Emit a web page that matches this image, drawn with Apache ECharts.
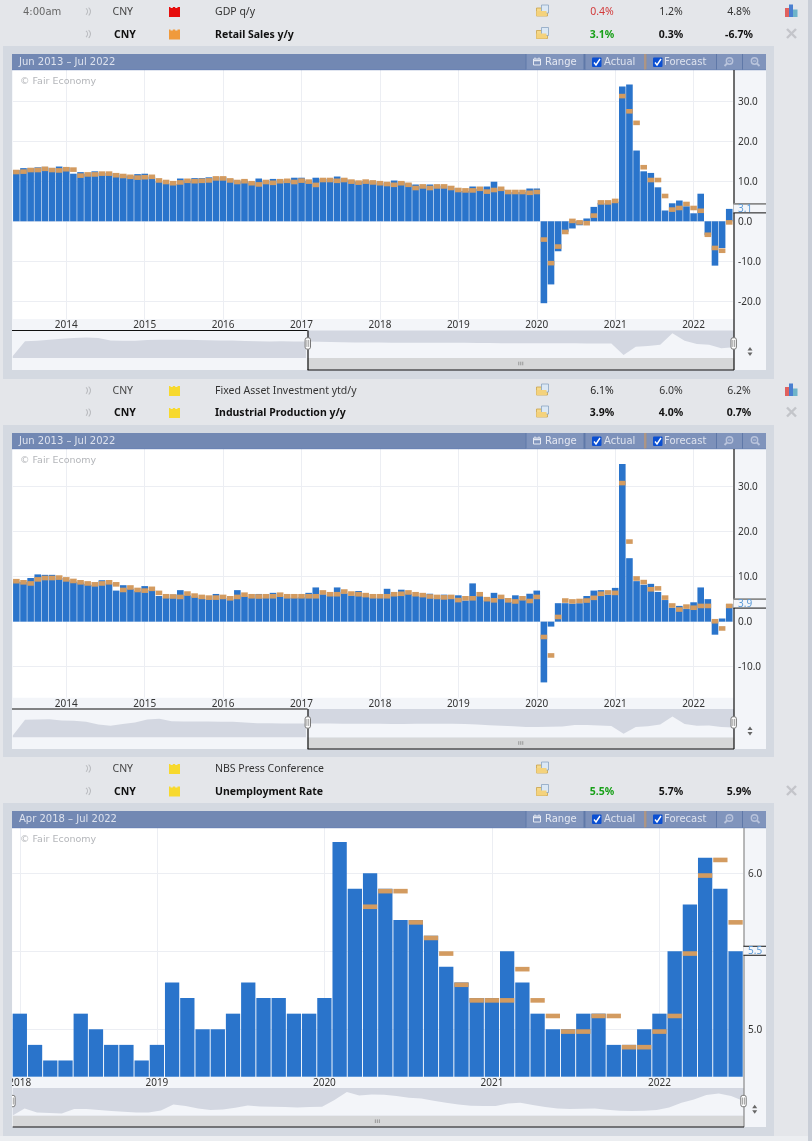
<!DOCTYPE html>
<html><head><meta charset="utf-8">
<style>html,body{margin:0;padding:0;background:#e4e6ea}#c{width:812px;height:1141px}</style>
<script src="https://cdn.jsdelivr.net/npm/echarts@6/dist/echarts.min.js"></script>
</head><body><div id="c"></div>
<script>
const MONTHS=['Jan','Feb','Mar','Apr','May','Jun','Jul','Aug','Sep','Oct','Nov','Dec'];
function releaseMonths(y,m,n){const o=[];while(o.length<n){if(m!==2)o.push(MONTHS[m-1]+' '+y);m++;if(m>12){m=1;y++;}}return o;}

const longCategories=releaseMonths(2013,6,101);
const shortCategories=releaseMonths(2018,4,48);
const longYearTicks=['Jan 2014','Jan 2015','Jan 2016','Jan 2017','Jan 2018','Jan 2019','Jan 2020','Jan 2021','Jan 2022'];
const shortYearTicks=['Apr 2018','Jan 2019','Jan 2020','Jan 2021','Jan 2022'];

const retailActual=[12.8,13.3,13.3,13.5,13.6,13.3,13.7,13.5,11.9,12.3,11.9,12.5,12.1,12.1,11.7,11.5,11.3,11.8,11.9,11.2,10.0,9.5,9.3,10.7,10.2,10.8,10.8,11.0,11.0,11.0,10.5,10.0,10.2,9.7,10.7,10.0,10.6,10.2,10.3,10.9,10.9,10.1,10.9,10.6,10.6,11.2,10.5,10.2,9.9,10.1,10.0,9.7,9.5,10.2,9.8,9.4,9.2,8.8,9.2,8.9,8.9,8.3,7.6,7.6,8.7,8.1,8.7,9.9,8.0,7.3,7.3,7.3,8.2,8.2,-20.5,-15.8,-7.5,-2.6,-1.8,-1.0,0.7,3.6,4.6,4.5,4.9,33.75,34.2,17.7,12.5,12.1,8.5,2.7,4.5,5.2,3.75,2.0,6.9,-3.5,-11.1,-6.7,3.1];
const retailForecast=[12.9,13.0,13.4,13.4,13.7,13.4,13.3,13.6,13.5,12.0,12.3,12.3,12.5,12.5,12.1,11.9,11.7,11.5,11.6,11.7,10.8,10.4,10.1,10.3,10.7,10.6,10.7,10.8,11.3,11.3,10.8,10.4,10.6,10.1,9.8,10.4,10.2,10.6,10.7,10.4,10.75,10.5,9.67,10.9,10.9,10.7,10.9,10.5,10.25,10.5,10.3,10.1,9.9,9.7,10.1,9.7,8.9,9.3,8.9,9.3,9.3,8.9,8.4,8.3,8.3,8.7,8.0,8.4,8.7,7.9,7.9,7.9,7.7,7.9,-4.0,-9.9,-5.75,-2.1,0.67,0.3,0.1,2.0,5.3,5.3,5.67,31.9,28.1,25.2,14.1,10.9,10.9,6.9,3.5,3.9,4.9,3.9,3.2,-2.8,-6.1,-6.8,0.3];
const productionActual=[8.9,8.8,9.7,10.5,10.4,10.4,9.7,9.3,8.9,8.7,8.4,8.2,9.2,8.5,6.9,8.1,7.3,6.8,7.9,7.0,5.7,5.3,6.0,7.0,5.9,5.6,5.2,5.0,6.15,5.2,4.9,7.0,5.6,5.3,6.15,5.3,6.4,5.6,5.3,5.3,5.4,6.4,7.6,6.1,5.7,7.6,6.3,5.8,6.8,5.5,5.3,5.3,7.3,5.7,7.1,6.2,5.7,5.5,6.2,5.2,6.0,5.1,5.85,4.7,8.5,5.7,4.7,6.4,5.2,4.4,5.85,4.8,6.2,6.9,-13.5,-1.1,4.1,4.1,4.0,4.1,5.7,6.9,7.0,6.0,7.5,35.0,14.1,9.0,8.2,8.4,6.6,4.8,3.1,3.5,2.8,4.3,7.6,5.0,-2.9,0.7,3.9];
const productionForecast=[9.5,9.25,9.0,9.9,10.2,10.2,10.3,9.9,9.55,9.25,9.0,8.8,9.0,9.25,8.8,7.55,8.1,7.55,7.4,7.8,6.9,6.15,6.1,6.0,6.75,6.3,6.0,5.85,5.85,6.0,5.7,6.0,6.5,6.15,6.1,6.15,6.15,6.5,6.15,6.15,6.15,6.15,6.15,7.0,6.6,6.6,7.2,6.75,6.6,6.4,6.15,6.15,6.15,6.6,6.7,7.0,6.6,6.4,6.1,6.0,5.9,6.0,5.3,5.7,5.7,6.6,5.5,5.25,6.0,5.25,5.0,5.7,5.1,6.0,-2.9,-7.0,1.55,5.2,5.0,5.1,5.2,5.8,6.7,7.0,6.9,31.3,18.3,10.1,9.3,7.7,7.9,5.85,4.1,3.2,3.85,3.6,4.0,4.0,0.6,-1.0,4.0];
const unemploymentActual=[5.1,4.9,4.8,4.8,5.1,5.0,4.9,4.9,4.8,4.9,5.3,5.2,5.0,5.0,5.1,5.3,5.2,5.2,5.1,5.1,5.2,6.2,5.9,6.0,5.9,5.7,5.7,5.6,5.4,5.3,5.2,5.2,5.5,5.3,5.1,5.0,5.0,5.1,5.1,4.9,4.9,5.0,5.1,5.5,5.8,6.1,5.9,5.5];
const unemploymentForecast=[null,null,null,null,null,null,null,null,null,null,null,null,null,null,null,null,null,null,null,null,null,null,null,5.8,5.9,5.9,5.7,5.6,5.5,5.3,5.2,5.2,5.2,5.4,5.2,5.1,5.0,5.0,5.1,5.1,4.9,4.9,5.0,5.1,5.5,6.0,6.1,5.7];

const retailOverview=[2,16.8,17.2,18.2,19.3,19.9,20.6,20,17.5,17.3,17.3,18,18.3,18.3,18.2,18.1,17.8,17.6,17.4,17,16.7,16.6,16.8,16.6,16.4,16.3,16,15.8,15.6,15.5,15.4,15.3,15.3,15.3,15.2,15.2,15.2,15.2,15,15,14.7,14.7,14.7,14.7,14.7,14.8,14.7,14.4,14.4,14.6,3,11.3,12,13.3,24.7,17.3,14,13.3,9.7,10.7];
const productionOverview=[2,17.8,18,18.2,17,16.7,15.8,13,11.8,13.5,15,18,18.7,16.2,16,16,15.9,15.8,15.7,15,14.3,14.2,14.1,14,14,14,13.9,13.8,13.7,13.7,13.7,13.6,13.6,13.7,13.8,13.7,13.7,13.4,13,12.3,11.7,11.2,10.5,10.5,10.8,11,12.5,12.6,12,11.5,3.7,10.5,11.3,13,21,13.5,11.8,12,10.5,10];
const unemploymentOverview=[0,7.3,3.3,2.7,2.3,6.7,6.7,5.7,4.7,4,3.3,3.3,5.3,11.3,9.7,7.3,5.7,6.3,8,10.3,9.3,9,8.7,8.3,8.7,9,15.7,23.7,20.3,21.3,21,19.7,18,17.3,15,13,11.3,10,9.7,9.7,12.3,13,10.7,8.7,7.3,6.7,7,7.3,6,5,4.7,5,5.7,8.3,13,16.3,20.7,22.3,19.7,14.7];
const overviewSteps=retailOverview.map((_,i)=>String(i));

const longValueTicks=[-20,-10,0,10,20,30];
const productionValueTicks=[-10,0,10,20,30];
const unemploymentGridTicks=[5,5.5,6];
const unemploymentLabelTicks=[5,6];

const BLUE='#2a74cb',TAN='#d39b60',LIGHT='#f3f5f9',DARK='#d3d7e1',OUTER='#d4d9e1',ROW='#e4e6ea';
const SANS='"Noto Sans"',WIDE='"DejaVu Sans"';

const panels=[
 {title:'Jun 2013 – Jul 2022',cats:longCategories,ticks:longYearTicks,actual:retailActual,forecast:retailForecast,overview:retailOverview,
  outerTop:46,outerBottom:379,top:54,plotTop:70,plotBottom:319,stripBottom:330.5,ovBottom:358,bottom:370,plotRight:732.8,right:734,left:12.8,handleX:307.5,splitAt:24,
  min:-24.45,max:37.85,gridTicks:longValueTicks,labelTicks:longValueTicks,current:3.1,barW:6.6,bandH:4.6,axisColor:'#111',arrowX:750},
 {title:'Jun 2013 – Jul 2022',cats:longCategories,ticks:longYearTicks,actual:productionActual,forecast:productionForecast,overview:productionOverview,
  outerTop:425,outerBottom:757,top:433,plotTop:449,plotBottom:697.7,stripBottom:709,ovBottom:737.5,bottom:749,plotRight:732.8,right:734,left:12.8,handleX:307.5,splitAt:24,
  min:-16.9,max:38.36,gridTicks:productionValueTicks,labelTicks:productionValueTicks,current:3.9,barW:6.6,bandH:4.6,axisColor:'#111',arrowX:750},
 {title:'Apr 2018 – Jul 2022',cats:shortCategories,ticks:shortYearTicks,actual:unemploymentActual,forecast:unemploymentForecast,overview:unemploymentOverview,
  outerTop:803,outerBottom:1136,top:811,plotTop:828,plotBottom:1076.7,stripBottom:1088,ovBottom:1115.7,bottom:1127,plotRight:743.2,right:744,left:12.2,handleX:12.7,splitAt:0,
  min:4.696,max:6.29,gridTicks:unemploymentGridTicks,labelTicks:unemploymentLabelTicks,current:5.5,barW:14.3,bandH:4.6,axisColor:'#8a8a8a',arrowX:754.7}
];
const rows=[
 {y:11.5,time:'4:00am',cur:'CNY',impact:'#e60d0d',name:'GDP q/y',bold:false,a:'0.4%',aColor:'#d23a3a',f:'1.2%',p:'4.8%',chart:true},
 {y:34,cur:'CNY',impact:'#f09a3c',name:'Retail Sales y/y',bold:true,a:'3.1%',aColor:'#18a018',f:'0.3%',p:'-6.7%',close:true},
 {y:390.5,cur:'CNY',impact:'#f7d92e',name:'Fixed Asset Investment ytd/y',bold:false,a:'6.1%',aColor:'#222',f:'6.0%',p:'6.2%',chart:true},
 {y:412.5,cur:'CNY',impact:'#f7d92e',name:'Industrial Production y/y',bold:true,a:'3.9%',aColor:'#111',f:'4.0%',p:'0.7%',close:true},
 {y:768.5,cur:'CNY',impact:'#f7d92e',name:'NBS Press Conference',bold:false},
 {y:791,cur:'CNY',impact:'#f7d92e',name:'Unemployment Rate',bold:true,a:'5.5%',aColor:'#18a018',f:'5.7%',p:'5.9%',close:true}
];

const grids=[],xAxes=[],yAxes=[],series=[];
panels.forEach((p,n)=>{
  const m=n*2,o=m+1,W=p.plotRight-p.left;
  grids.push({left:p.left,top:p.plotTop,width:W,height:p.plotBottom-p.plotTop,containLabel:false});
  grids.push({left:p.left,top:p.stripBottom,width:p.right-p.left-0.5,height:p.ovBottom-p.stripBottom,containLabel:false});
  const isTick=(i,v)=>p.ticks.indexOf(p.cats[i])>=0;
  xAxes.push({gridIndex:m,type:'category',data:p.cats,boundaryGap:true,position:'bottom',
    axisLine:{show:false,onZero:false},axisTick:{show:false},
    axisLabel:{interval:isTick,formatter:v=>v.slice(-4),margin:1,fontFamily:SANS,fontSize:10,color:'#333',hideOverlap:false,showMinLabel:true,verticalAlign:'top',lineHeight:10},
    splitLine:{show:true,interval:isTick,alignWithLabel:true,lineStyle:{color:'#eceef3',width:1}}});
  yAxes.push({gridIndex:m,type:'value',position:'right',min:p.min,max:p.max,
    axisLine:{show:false,onZero:false},
    axisTick:{show:false,customValues:p.gridTicks},
    axisLabel:{customValues:p.labelTicks,formatter:v=>'{v|'+v.toFixed(1)+'}',margin:p.right-p.plotRight+4,rich:{v:{padding:[2,0,0,0],fontFamily:SANS,fontSize:10,color:'#333'}},fontFamily:SANS,fontSize:10,color:'#333',align:'left'},
    splitLine:{show:true,lineStyle:{color:'#eceef3',width:1}}});
  xAxes.push({gridIndex:o,type:'category',data:overviewSteps,boundaryGap:false,show:false});
  yAxes.push({gridIndex:o,type:'value',min:0,max:p.ovBottom-p.stripBottom,show:false});
  series.push({type:'bar',name:'Actual',xAxisIndex:m,yAxisIndex:m,data:p.actual,barWidth:p.barW,itemStyle:{color:BLUE},z:3,silent:true});
  series.push({type:'scatter',name:'Forecast',xAxisIndex:m,yAxisIndex:m,data:p.forecast,symbol:'rect',symbolSize:[p.barW,p.bandH],symbolOffset:[0,p.bandH/2],itemStyle:{color:TAN,opacity:1},z:4,silent:true});
  const left=p.overview.map((v,i)=>i<=p.splitAt&&p.splitAt>0?v:null);
  const right=p.overview.map((v,i)=>i>=p.splitAt?v:null);
  series.push({type:'line',xAxisIndex:o,yAxisIndex:o,data:left,showSymbol:false,silent:true,lineStyle:{width:0},areaStyle:{color:DARK,opacity:1},z:3});
  series.push({type:'line',xAxisIndex:o,yAxisIndex:o,data:right,showSymbol:false,silent:true,lineStyle:{width:0},areaStyle:{color:LIGHT,opacity:1},z:3});
});

const chart=echarts.init(document.getElementById('c'),null,{renderer:'canvas'});
chart.setOption({animation:false,backgroundColor:ROW,grid:grids,xAxis:xAxes,yAxis:yAxes,series:series});

const els=[];
function rect(x,y,w,h,fill,z,r){els.push({type:'rect',silent:true,z:z==null?-5:z,shape:{x,y,width:w,height:h,r:r||0},style:{fill}});}
function rectS(x,y,w,h,fill,stroke,lw,z,r){els.push({type:'rect',silent:true,z,shape:{x,y,width:w,height:h,r:r||0},style:{fill,stroke,lineWidth:lw}});}
function line(x1,y1,x2,y2,stroke,lw,z){els.push({type:'line',silent:true,z:z==null?8:z,shape:{x1,y1,x2,y2},style:{stroke,lineWidth:lw||1,lineCap:'butt'}});}
function poly(points,fill,z){els.push({type:'polygon',silent:true,z:z==null?8:z,shape:{points},style:{fill}});}
function text(x,y,s,font,fill,align,z){els.push({type:'text',silent:true,z:z==null?9:z,x,y:y+0.8,style:{text:s,font,fill,align:align||'left',verticalAlign:'middle'}});}
function arc(cx,cy,r,a,b,stroke,lw){els.push({type:'arc',silent:true,z:8,shape:{cx,cy,r,startAngle:a,endAngle:b},style:{stroke,lineWidth:lw,fill:null}});}

rect(808,0,4,1141,'#c9ced7',-6);
rect(0,1136,808,5,'#eceef1',-6);

rows.forEach(r=>{
  const y=r.y,valFont=r.bold?'bold 10.5px '+SANS:'10.5px '+SANS;
  if(r.time)text(23,y,r.time,'10px '+WIDE,'#666');
  arc(83.5,y,4,-0.9,0.9,'#b9bbbf',1.1);arc(85.5,y,5,-0.9,0.9,'#b9bbbf',1.1);
  text(r.bold?114:112.5,y,r.cur,valFont,r.bold?'#111':'#444');
  const c=r.impact,t=y-4.5,b=y+5.5;
  poly([[169,b],[169,t],[170.5,t],[170.5,t+1],[172.8,t+1],[172.8,t],[175.2,t],[175.2,t+1],[177.5,t+1],[177.5,t],[180,t],[180,b]],c);
  text(215,y,r.name,valFont,r.bold?'#111':'#333');
  rectS(536.5,y-3.5,11,8,'#f6d98a','#c9a24a',0.8,8);
  rectS(541.5,y-6.5,7,8,'#dbe8f5','#8aa4c2',0.8,8);
  rect(536.5,y-0.5,10,5,'#f4d27c',8);
  if(r.a){
    text(602,y,r.a,valFont,r.aColor,'center');
    text(671,y,r.f,valFont,r.bold?'#111':'#333','center');
    text(739,y,r.p,valFont,r.bold?'#111':'#333','center');
  }
  if(r.chart){
    rect(785,y-3.5,4,9,'#e0615f',8);rect(789,y-7,4,12.5,'#4a7fd0',8);rect(793,y-2,4.5,7.5,'#6fb4c9',8);
  }
  if(r.close){
    line(787,y-5,796,y+4,'#c3c5ca',2.4);line(796,y-5,787,y+4,'#c3c5ca',2.4);
  }
});

panels.forEach((p,n)=>{
  const I=12,R=766,hx=p.handleX,T=p.top,H=p.plotTop;
  rect(3,p.outerTop,771,p.outerBottom-p.outerTop,OUTER,-6);
  rect(I,T,R-I,p.bottom-T,LIGHT,-5);
  rect(p.left,p.plotTop,p.right-p.left,p.plotBottom-p.plotTop,'#fff',-4);
  rect(I,T,R-I,H-T-0.5,'#7288b3',5);
  line(I,H-0.3,R,H-0.3,'#5a76ad',1,6);
  text(19,T+7.5,p.title,'10px '+WIDE,'#dde2ee');
  rect(526,T,57,H-T-0.5,'#8094bc',6);line(526,T,526,H-0.5,'#5f78a8',1,7);
  rect(586,T,59,H-T-0.5,'#7d91ba',6);
  rect(644,T,2.5,H-T-0.5,'#ad9585',7);
  rect(646.5,T,70,H-T-0.5,'#7d91ba',6);
  rect(717,T,25,H-T-0.5,'#8094bc',6);rect(743,T,23,H-T-0.5,'#8094bc',6);
  line(584.5,T,584.5,H-0.5,'#5f78a8',1.2,7);line(716.5,T,716.5,H-0.5,'#5f78a8',1,7);line(742.5,T,742.5,H-0.5,'#5f78a8',1,7);
  rectS(533.5,T+5,7,6,null,'#e4e8f2',1,8);line(533.5,T+6.5,540.5,T+6.5,'#e4e8f2',1.5,8);line(535,T+3.5,535,T+5,'#e4e8f2',1,8);line(539,T+3.5,539,T+5,'#e4e8f2',1,8);
  text(545,T+7.7,'Range','10px '+WIDE,'#e4e8f2');
  [592,653].forEach(cx=>{
    rect(cx,T+3.5,9.5,9.5,'#0b4fd2',8,1);
    els.push({type:'polyline',silent:true,z:9,shape:{points:[[cx+2,T+8.5],[cx+4,T+11],[cx+8,T+5]]},style:{stroke:'#fff',lineWidth:1.4,fill:null}});
  });
  text(604,T+7.5,'Actual','10px '+WIDE,'#dde2ee');
  text(664,T+7.5,'Forecast','10px '+WIDE,'#dde2ee');
  [729.5,754.5].forEach((cx,i)=>{
    els.push({type:'circle',silent:true,z:8,shape:{cx,cy:T+7,r:3.2},style:{stroke:'#b9c4dc',lineWidth:1.4,fill:null}});
    line(cx+(i?2.5:-2.5),T+9.5,cx+(i?5:-5),T+12,'#b9c4dc',1.8,8);
    line(cx-1.6,T+7,cx+1.6,T+7,'#b9c4dc',1,8);
  });
  text(20,H+10.5,'© Fair Economy','9.5px '+WIDE,'#b4b6ba');
  const ovT=p.stripBottom,ovB=p.ovBottom;
  if(hx>20){
    rect(p.left,ovT,hx-p.left,ovB-ovT,LIGHT,-4);
    rect(p.left,ovB,hx-p.left,p.bottom-ovB,LIGHT,-4);
    line(I,ovT,hx,ovT,'#111',1.2);
    line(hx+0.5,ovT,hx+0.5,p.bottom,'#111',1.2);
  }
  rect(hx,ovT,p.right-hx,ovB-ovT,DARK,-4);
  rect(hx,ovB,p.right-hx,p.bottom-ovB,'#d6d7d8',-4);
  line(hx,p.bottom,p.right,p.bottom,'#111',1.2);
  line(p.right,p.plotTop,p.right,p.bottom,p.axisColor,1.2,6);
  const gx=(hx+p.right)/2+(n===2?-1:0),gy=ovB+5.5;
  [-2,0,2].forEach(d=>line(gx+d,gy-1.8,gx+d,gy+1.8,'#888',0.8));
  const hy=(ovT+ovB)/2-0.8;
  const handles=n===2?[p.left+0.2,p.right-0.5]:[hx+0.3,p.right-0.3];
  handles.forEach(cx=>{
    rectS(cx-2.7,hy-5.7,5.4,11.4,'#fff','#777',1,9,2);
    line(cx-0.9,hy-3.5,cx-0.9,hy+3.5,'#888',0.8,10);line(cx+0.9,hy-3.5,cx+0.9,hy+3.5,'#888',0.8,10);
  });
  const ax=p.arrowX,ay=ovB-7;
  poly([[ax-2.5,ay-0.5],[ax+2.5,ay-0.5],[ax,ay-4]],'#666');
  poly([[ax-2.5,ay+1.5],[ax+2.5,ay+1.5],[ax,ay+5]],'#666');
  rect(3,p.plotBottom,9,p.bottom-p.plotBottom,OUTER,11);
  const yy=chart.convertToPixel({gridIndex:n*2},[0,p.current])[1];
  rect(p.right-0.6,yy-5,R-p.right+0.6,9,LIGHT,7);
  line(p.right-0.6,yy-5,R,yy-5,n===2?'#111':'#8a8a8a',n===2?1:1.6,8);
  line(p.right-0.6,yy+4,R,yy+4,'#111',1,8);
  text(p.right+4,yy-0.6,p.current.toFixed(1),'10px '+SANS,'#5c9bd8');
});
chart.setOption({graphic:{elements:els}});
</script></body></html>
